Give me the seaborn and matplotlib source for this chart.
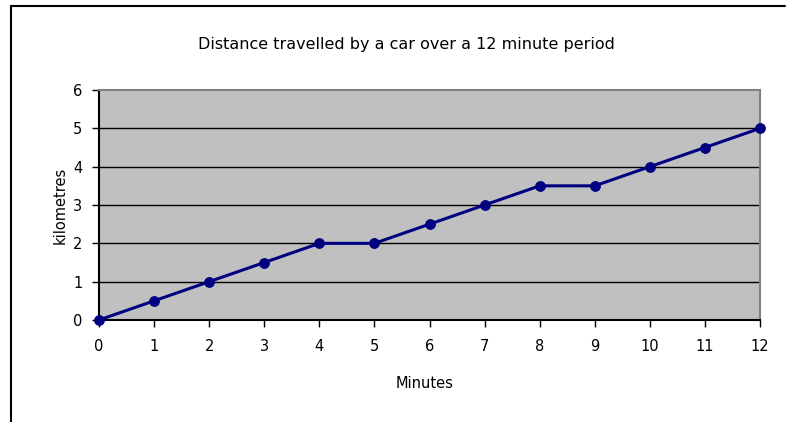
import matplotlib
matplotlib.use("Agg")
import matplotlib.pyplot as plt
import seaborn as sns
import pandas as pd
from matplotlib.lines import Line2D

# Data
minutes = [0, 1, 2, 3, 4, 5, 6, 7, 8, 9, 10, 11, 12]
kilometres = [0, 0.5, 1, 1.5, 2, 2, 2.5, 3, 3.5, 3.5, 4, 4.5, 5]

TITLE = "Distance travelled by a car over a 12 minute period"
LINE_COLOR = "#000080"
PLOT_BG = "#c0c0c0"

df = pd.DataFrame({"Minutes": minutes, "kilometres": kilometres})

sns.set_style("white")
plt.rcParams["font.family"] = ["DejaVu Sans"]
plt.rcParams["text.color"] = "black"
plt.rcParams["xtick.color"] = "black"
plt.rcParams["ytick.color"] = "black"

W, H = 787, 422
fig = plt.figure(figsize=(W / 100, H / 100), dpi=100)
ax = fig.add_axes([99 / W, 1 - 320 / H, (760 - 99) / W, (320 - 90) / H])
ax.set_facecolor(PLOT_BG)

sns.lineplot(data=df, x="Minutes", y="kilometres", ax=ax, color=LINE_COLOR,
             linewidth=2.2, marker="o", markersize=7, markeredgecolor=LINE_COLOR,
             clip_on=False, zorder=5)

ax.set_xlim(0, 12)
ax.set_ylim(0, 6)
ax.set_xticks(range(0, 13))
ax.set_yticks(range(0, 7))
ax.tick_params(axis="both", direction="out", length=5, width=1, color="black",
               labelsize=10.5, bottom=True, left=True)
ax.tick_params(axis="x", pad=9)
ax.tick_params(axis="y", pad=7)

# black horizontal gridlines
for y in range(1, 6):
    ax.axhline(y, color="black", linewidth=1, zorder=1)

for side in ["left", "bottom"]:
    ax.spines[side].set_color("black")
    ax.spines[side].set_linewidth(1.5)
for side in ["top", "right"]:
    ax.spines[side].set_visible(True)
    ax.spines[side].set_color("#808080")
    ax.spines[side].set_linewidth(1.5)

ax.set_xlabel("")
ax.set_ylabel("")
fig.text(425 / W, 1 - 383 / H, "Minutes", ha="center", va="center", fontsize=10.5)
fig.text(60 / W, 1 - 205 / H, "kilometres", ha="center", va="center",
         fontsize=10.5, rotation=90)
fig.text(406 / W, 1 - 45 / H, TITLE, ha="center", va="center", fontsize=11.5)

# chart frame (only top and left edges visible in the reference)
fig.add_artist(Line2D([11 / W, 11 / W], [0, 1 - 6 / H], color="black", linewidth=1.5))
fig.add_artist(Line2D([11 / W, 785 / W], [1 - 6 / H, 1 - 6 / H], color="black", linewidth=1.5))

fig.savefig("out.png", dpi=100)
